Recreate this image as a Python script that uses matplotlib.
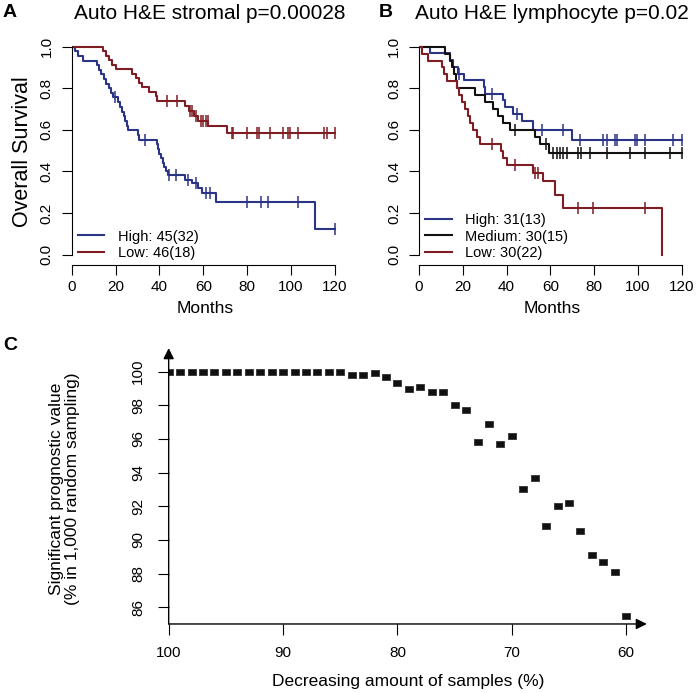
# Survival curves (A, B) and sampling robustness (C)
import numpy as np
import matplotlib.pyplot as plt

plt.rcParams['font.family'] = ['Liberation Sans', 'DejaVu Sans']

BLUE = '#2c3585'
RED = '#7f1d24'
BLACK = '#111111'

# ---- panel A: stromal score, step curves
a_high_t = [0, 1.5, 3, 5, 11.5, 12.5, 13.5, 14.5, 15.5, 17, 18, 19, 21, 22, 23, 24, 24.5, 25,
            25.8, 30, 30.5, 38.7, 39.5, 40, 40.5, 41.5, 42, 43, 44, 51.7, 55, 57.5, 59.5, 65.8, 110.9]
a_high_s = [1, .978, .956, .933, .911, .889, .867, .844, .822, .800, .778, .756, .733, .710, .688,
            .665, .643, .621, .598, .575, .552, .530, .508, .486, .464, .442, .420, .400, .384,
            .360, .345, .320, .296, .253, .125]
a_high_cens = [19.5, 33.5, 44.5, 47.7, 53.2, 56.5, 61, 63, 79.8, 86.3, 89.6, 103.3, 120]

a_low_t = [0, 14.4, 15.5, 17, 18.5, 20.0, 27.6, 29.1, 30.6, 32.1, 35.2, 38.2, 39.0, 51.6, 53.5,
           55.7, 57.5, 62.3, 70.6]
a_low_s = [1, .978, .957, .935, .913, .891, .870, .848, .826, .804, .783, .761, .738, .715, .690,
           .668, .645, .620, .584]
a_low_cens = [43.3, 47.8, 54, 55, 56.5, 59, 60, 61, 62, 73.2, 73.6, 79.8, 84.3, 85.5, 90.4, 96.5,
              98.4, 99.5, 103.3, 115, 116.2, 120]

# ---- panel B: lymphocyte score
b_high_t = [0, 5, 14, 15.5, 18, 20.5, 29.5, 30, 38.5, 39.5, 43, 47, 52.2, 69.8]
b_high_s = [1, .968, .935, .903, .871, .839, .806, .774, .742, .710, .677, .645, .600, .552]
b_high_cens = [18.5, 33.2, 44.6, 56, 65.9, 73.5, 84.2, 86, 89.5, 90.3, 98.7, 99.5, 103.2, 116.2, 120]

b_med_t = [0, 11.9, 14.2, 15.2, 16, 16.8, 17.5, 25.6, 30.1, 34, 36, 38.5, 41.6, 53, 55.5, 59.5]
b_med_s = [1, .967, .933, .900, .867, .833, .800, .767, .733, .700, .667, .633, .600, .566, .530, .491]
b_med_cens = [43.9, 58, 61.4, 62.9, 64.4, 65.9, 67.5, 72.8, 73.9, 78.1, 85.7, 96.4, 103.2, 114.7, 120]

b_low_t = [0, 1.2, 4.3, 10.4, 11.5, 12.6, 17.2, 18.3, 19.5, 21, 22.5, 23.3, 24.8, 26.3, 27.9,
           37.5, 38.5, 40.1, 52.2, 56.8, 62.1, 65.6, 111]
b_low_s = [1, .967, .933, .900, .867, .833, .800, .767, .733, .700, .667, .633, .600, .567, .533,
           .500, .467, .433, .392, .352, .288, .226, 0]
b_low_cens = [33.2, 43.9, 53, 54.5, 72.8, 79.5, 103.5]

# ---- panel C: % significant in 1,000 random samplings
c_pct = list(range(100, 59, -1))
c_sig = [100] * 16 + [99.8, 99.8, 99.9, 99.7, 99.3, 99.0, 99.1, 98.8, 98.8, 98.0, 97.7, 95.8,
                      96.9, 95.7, 96.2, 93.0, 93.7, 90.8, 92.0, 92.2, 90.5, 89.1, 88.7, 88.1, 85.5]


def km_curve(ax, t, s, cens, end, color, label):
    t = np.array(t + [end])
    s = np.array(s + [s[-1]])
    ax.step(t, s, where='post', color=color, lw=1.5, label=label)
    idx = np.searchsorted(t, cens, side='right') - 1
    ax.plot(cens, s[idx], ls='none', marker='|', ms=8, mew=1.1, color=color)


def r_axes(ax):
    ax.set_xlim(0, 122)
    ax.set_ylim(-0.05, 1.04)
    for sp in ['top', 'right']:
        ax.spines[sp].set_visible(False)
    ax.spines['left'].set_bounds(0, 1)
    ax.spines['bottom'].set_bounds(0, 120)
    ax.set_xticks(range(0, 121, 20))
    ax.set_yticks(np.arange(0, 1.01, 0.2))
    ax.set_yticklabels(['0.0', '0.2', '0.4', '0.6', '0.8', '1.0'], rotation=90, va='center')
    ax.tick_params(length=7, width=0.8, labelsize=11)
    ax.tick_params(axis='y', pad=6)
    ax.tick_params(axis='x', pad=4)
    ax.set_xlabel('Months', fontsize=12.5, labelpad=5)
    for sp in ['left', 'bottom']:
        ax.spines[sp].set_linewidth(0.8)


def legend(ax):
    ax.legend(loc='lower left', frameon=False, fontsize=10.5, handlelength=1.8, handletextpad=0.9,
              labelspacing=0.2, borderaxespad=0.0, borderpad=0.0, bbox_to_anchor=(0.024, 0.02))


fig = plt.figure(figsize=(6.97, 6.93), dpi=100)

axA = fig.add_axes([0.1029, 0.6176, 0.384, 0.327])
km_curve(axA, a_high_t, a_high_s, a_high_cens, 120, BLUE, 'High: 45(32)')
km_curve(axA, a_low_t, a_low_s, a_low_cens, 120, RED, 'Low: 46(18)')
r_axes(axA)
axA.set_ylabel('Overall Survival', fontsize=15.5, labelpad=5)
legend(axA)

axB = fig.add_axes([0.6011, 0.6176, 0.3831, 0.327])
km_curve(axB, b_high_t, b_high_s, b_high_cens, 120, BLUE, 'High: 31(13)')
km_curve(axB, b_med_t, b_med_s, b_med_cens, 120, BLACK, 'Medium: 30(15)')
km_curve(axB, b_low_t, b_low_s, b_low_cens, 111, RED, 'Low: 30(22)')
r_axes(axB)
legend(axB)

fig.text(0.301, 0.981, 'Auto H&E stromal p=0.00028', ha='center', va='center', fontsize=15)
fig.text(0.792, 0.981, 'Auto H&E lymphocyte p=0.02', ha='center', va='center', fontsize=15)
fig.text(0.004, 0.982, 'A', fontsize=14, fontweight='bold', va='center')
fig.text(0.544, 0.982, 'B', fontsize=14, fontweight='bold', va='center')
fig.text(0.004, 0.502, 'C', fontsize=14, fontweight='bold', va='center')

# ---- panel C
axC = fig.add_axes([0.242, 0.0996, 0.686, 0.398])
rect = [(-1.3, -1), (1.3, -1), (1.3, 1), (-1.3, 1), (-1.3, -1)]
axC.plot(c_pct, c_sig, ls='none', marker=rect, ms=6.3, color='#111111', mec='#333333', mew=0.6)
axC.set_xlim(100, 58.2)
axC.set_ylim(85, 101.4)
for sp in axC.spines.values():
    sp.set_visible(False)
axC.annotate('', xy=(1, 0), xytext=(0, 0), xycoords='axes fraction',
             arrowprops=dict(arrowstyle='-|>', lw=1.0, color='black', mutation_scale=16,
                             shrinkA=0, shrinkB=0))
axC.annotate('', xy=(0, 1), xytext=(0, 0), xycoords='axes fraction',
             arrowprops=dict(arrowstyle='-|>', lw=1.0, color='black', mutation_scale=16,
                             shrinkA=0, shrinkB=0))
axC.set_xticks([100, 90, 80, 70, 60])
axC.set_yticks(range(86, 101, 2))
axC.set_yticklabels([str(v) for v in range(86, 101, 2)], rotation=90, va='center')
axC.tick_params(length=8, width=0.8, labelsize=11)
axC.tick_params(axis='y', pad=9)
axC.tick_params(axis='x', pad=8)
fig.text(0.5853, 0.006, 'Decreasing amount of samples (%)', ha='center', va='bottom',
         fontsize=12.5)
fig.text(0.092, 0.295, 'Significant prognostic value\n(% in 1,000 random sampling)',
         rotation=90, ha='center', va='center', fontsize=12.5, multialignment='center',
         linespacing=1.1)

fig.savefig('out.png', dpi=100)
